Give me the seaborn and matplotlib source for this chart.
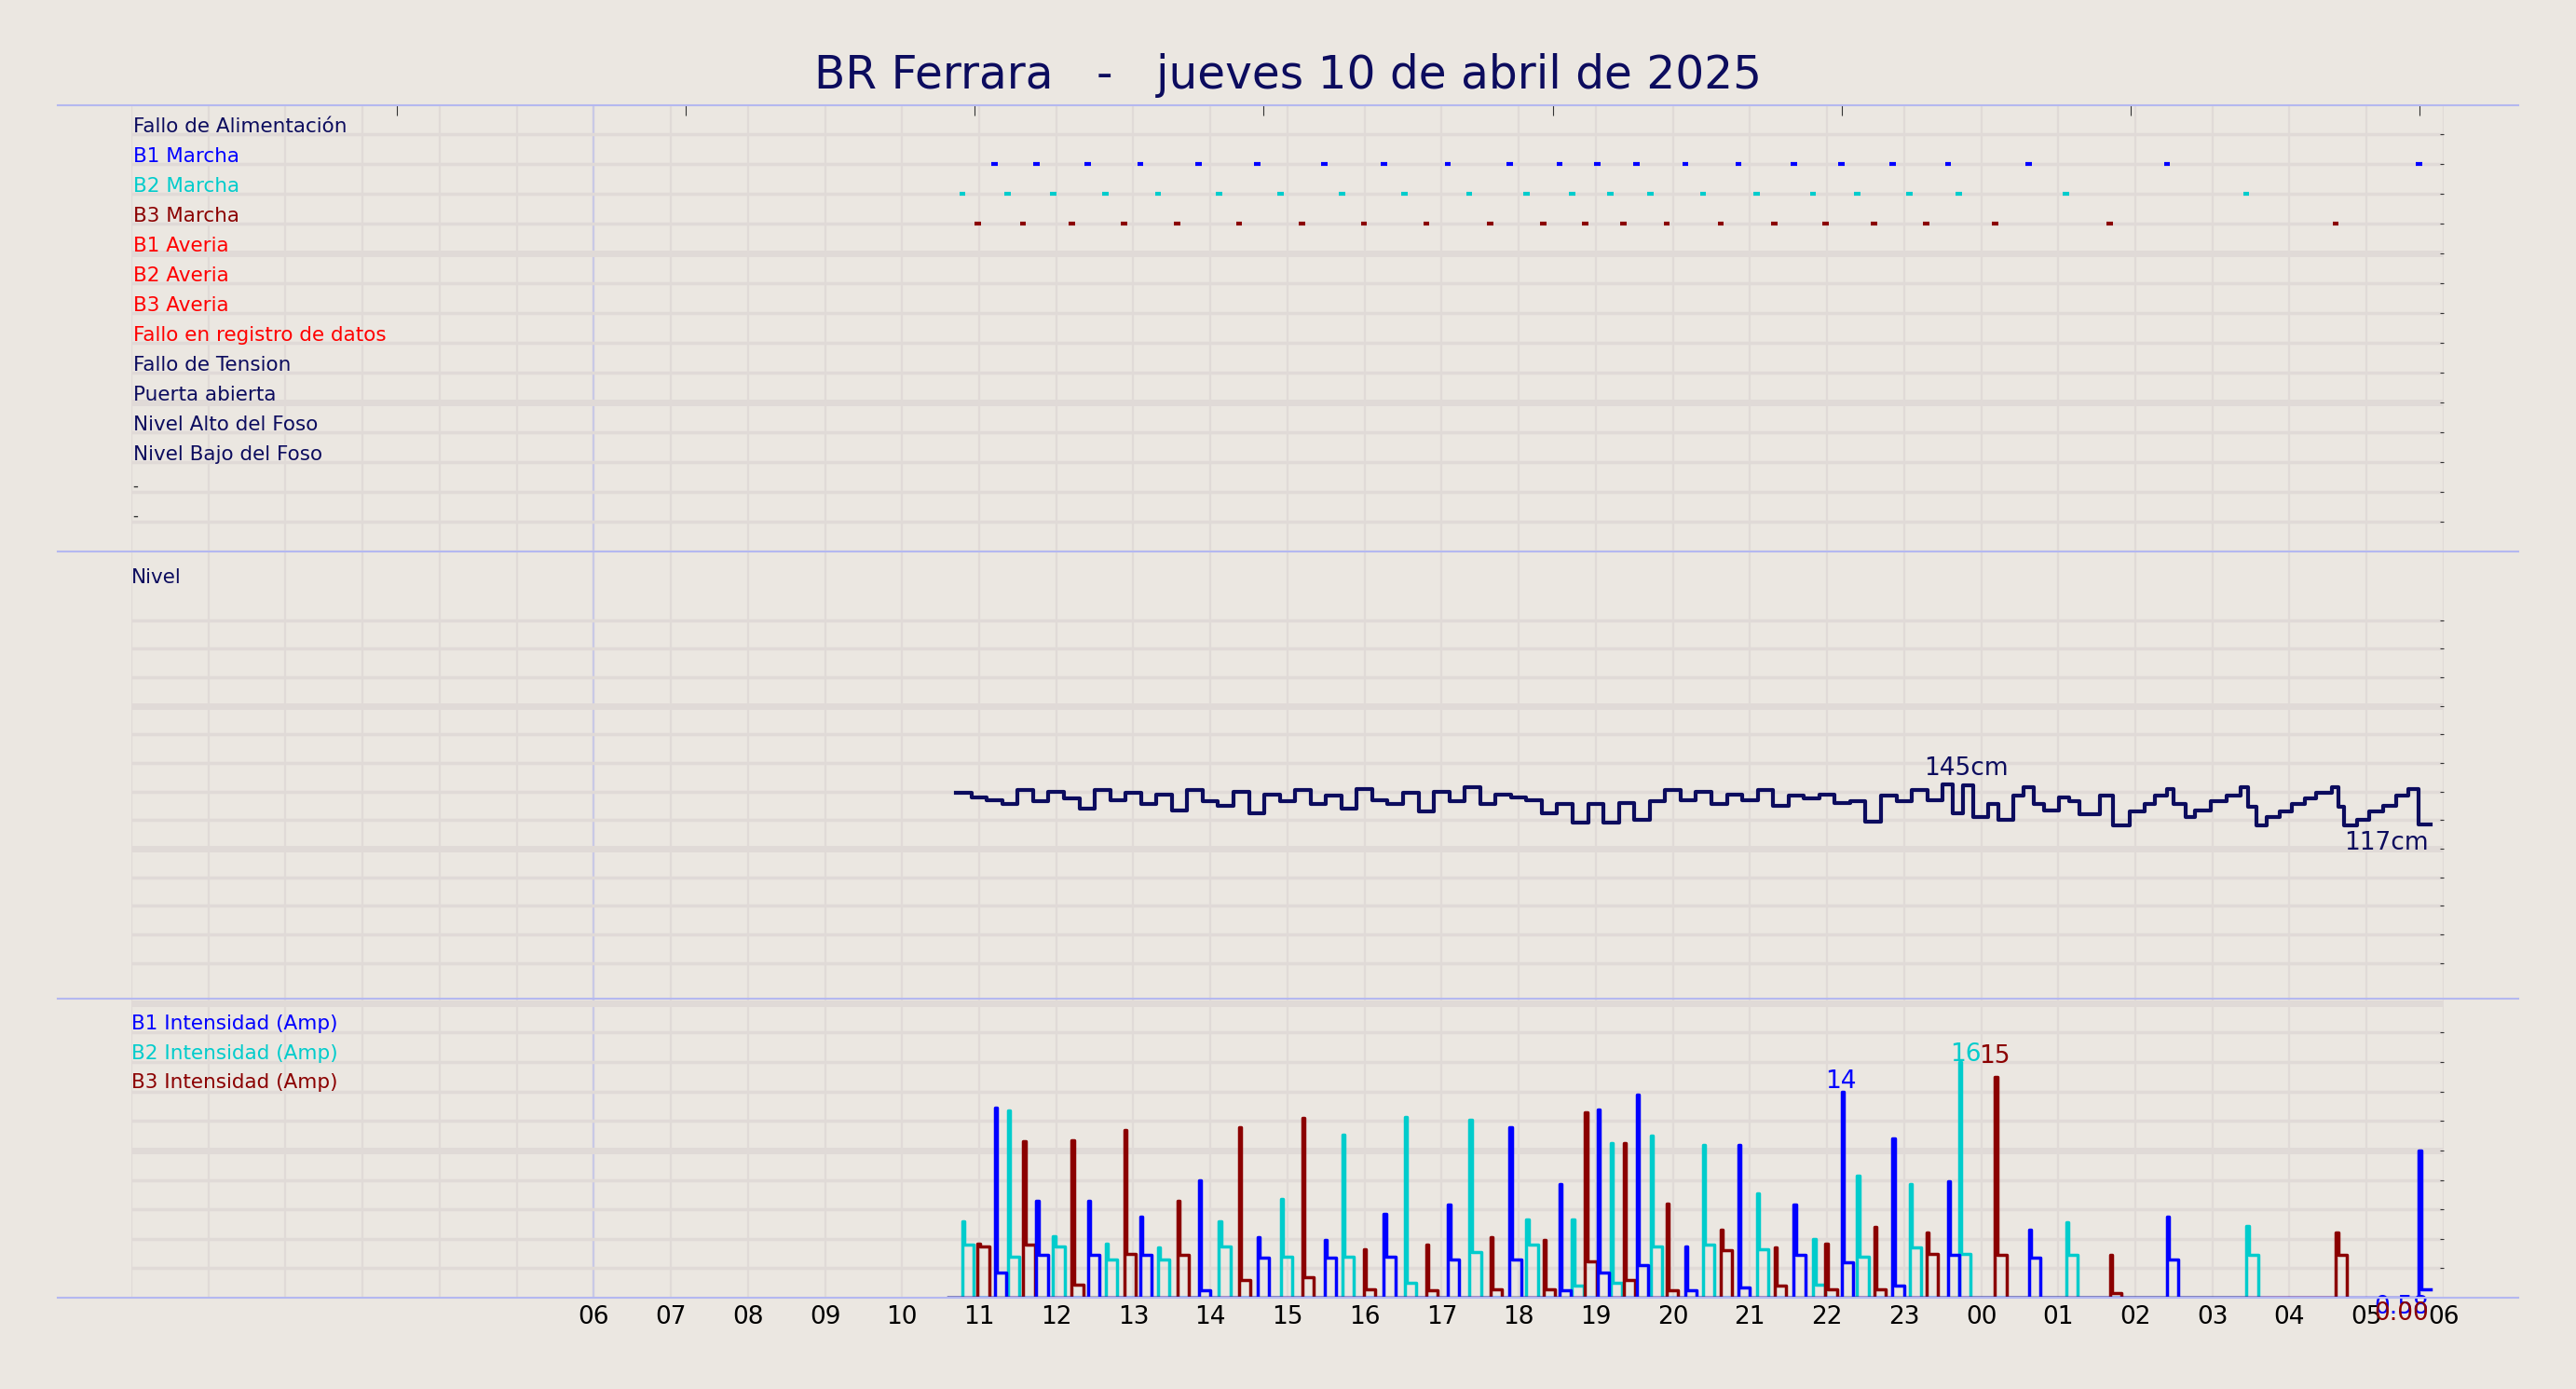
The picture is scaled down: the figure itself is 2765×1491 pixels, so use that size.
import matplotlib
matplotlib.use('Agg')
import matplotlib.pyplot as plt
import seaborn as sns
import numpy as np

BG = '#ebe7e1'
NAVY = '#0c0c5e'
GRID = '#e0dad7'
SEP = '#b4b8f0'

# ---- datos ----
etiquetas_estado = ['Fallo de Alimentación', 'B1 Marcha', 'B2 Marcha', 'B3 Marcha', 'B1 Averia',
                    'B2 Averia', 'B3 Averia', 'Fallo en registro de datos', 'Fallo de Tension',
                    'Puerta abierta', 'Nivel Alto del Foso', 'Nivel Bajo del Foso']
colores_estado = [NAVY, 'blue', '#00cccc', '#8b0000', 'red', 'red', 'red', 'red',
                  NAVY, NAVY, NAVY, NAVY]

# arranques de bombas (horas desde 00:00 del 10/04)
b1_t = [11.20, 11.74, 12.41, 13.09, 13.85, 14.61, 15.48, 16.25, 17.08, 17.88, 18.53, 19.02,
        19.53, 20.16, 20.85, 21.57, 22.19, 22.85, 23.57, 24.62, 26.41, 29.68]
b1_pico = [12.9, 6.6, 6.6, 5.5, 8.0, 4.1, 3.9, 5.7, 6.3, 11.6, 7.7, 12.8,
           13.8, 3.5, 10.4, 6.3, 14.0, 10.8, 7.9, 4.6, 5.5, 10.0]
b1_meseta = [1.7, 2.9, 2.9, 2.9, 0.5, 2.7, 2.7, 2.8, 2.6, 2.6, 0.5, 1.7,
             2.2, 0.5, 0.7, 2.9, 2.4, 0.8, 2.9, 2.7, 2.6, 0.58]

b2_t = [10.78, 11.37, 11.96, 12.64, 13.32, 14.11, 14.91, 15.71, 16.52, 17.36, 18.10, 18.69,
        19.19, 19.71, 20.39, 21.09, 21.82, 22.39, 23.07, 23.71, 25.10, 27.44]
b2_pico = [5.2, 12.7, 4.2, 3.7, 3.4, 5.2, 6.7, 11.1, 12.3, 12.1, 5.3, 5.3,
           10.5, 11.0, 10.4, 7.1, 4.0, 8.3, 7.7, 16.0, 5.1, 4.9]
b2_meseta = [3.6, 2.8, 3.5, 2.6, 2.6, 3.5, 2.8, 2.8, 1.0, 3.1, 3.6, 0.8,
             1.0, 3.5, 3.6, 3.3, 0.9, 2.8, 3.4, 3.0, 2.9, 2.9]

b3_t = [10.98, 11.57, 12.20, 12.88, 13.57, 14.37, 15.19, 15.99, 16.80, 17.63, 18.32, 18.86,
        19.36, 19.92, 20.62, 21.32, 21.98, 22.61, 23.29, 24.18, 25.67, 28.60]
b3_pico = [3.7, 10.6, 10.7, 11.4, 6.6, 11.6, 12.2, 3.3, 3.6, 4.1, 3.9, 12.6,
           10.5, 6.4, 4.6, 3.4, 3.7, 4.8, 4.4, 15.0, 2.9, 4.4]
b3_meseta = [3.5, 3.6, 0.9, 3.0, 2.9, 1.2, 1.4, 0.6, 0.5, 0.6, 0.6, 2.5,
             1.2, 0.5, 3.2, 0.8, 0.6, 0.6, 3.0, 2.9, 0.3, 2.9]

nivel_t = [10.7, 10.9, 11.1, 11.3, 11.5, 11.7, 11.9, 12.1, 12.3, 12.5, 12.7, 12.9, 13.1, 13.3,
           13.5, 13.7, 13.9, 14.1, 14.3, 14.5, 14.7, 14.9, 15.1, 15.3, 15.5, 15.7, 15.9, 16.1,
           16.3, 16.5, 16.7, 16.9, 17.1, 17.3, 17.5, 17.7, 17.9, 18.1, 18.3, 18.5, 18.7, 18.9,
           19.1, 19.3, 19.5, 19.7, 19.9, 20.1, 20.3, 20.5, 20.7, 20.9, 21.1, 21.3, 21.5, 21.7,
           21.9, 22.1, 22.3, 22.5, 22.7, 22.9, 23.1, 23.3, 23.5, 23.63, 23.76, 23.9, 24.09,
           24.22, 24.42, 24.55, 24.68, 24.81, 25.01, 25.14, 25.27, 25.54, 25.71, 25.93, 26.12,
           26.26, 26.41, 26.49, 26.65, 26.78, 26.98, 27.18, 27.37, 27.46, 27.57, 27.70, 27.87,
           28.03, 28.20, 28.35, 28.55, 28.64, 28.71, 28.88, 29.04, 29.21, 29.38, 29.54, 29.68,
           29.83]
nivel_v = [139, 136, 134, 131, 141, 133, 140, 135, 128, 141, 134, 139, 131, 138,
           127, 141, 133, 130, 140, 125, 138, 133, 141, 131, 137, 128, 142, 134,
           131, 139, 126, 140, 133, 143, 131, 138, 136, 134, 125, 131, 118, 131,
           118, 132, 120, 133, 141, 134, 140, 131, 138, 134, 141, 130, 137, 135,
           138, 132, 133, 119, 137, 133, 141, 134, 145, 125, 144, 122, 131,
           120, 137, 143, 131, 127, 136, 133, 124, 137, 116, 126, 131,
           137, 142, 131, 122, 127, 133, 137, 143, 129, 116, 122, 126,
           131, 135, 139, 143, 129, 116, 120, 126, 130, 137, 142, 117,
           117]

ticks_sup = [3.44, 7.19, 10.94, 14.69, 18.44, 22.19, 25.94, 29.69]
horas = list(range(6, 31))
fin = 29.83


def serie_bomba(t, pico, meseta):
    xs, ys = [10.6], [0.0]
    for i in range(len(t)):
        xs += [t[i], t[i] + 0.03, t[i] + 0.15]
        ys += [pico[i], meseta[i], 0.0]
    if meseta[-1] > 0.5 and t[-1] > 29:
        xs[-1] = fin
        ys[-1] = meseta[-1]
    return xs, ys


fig = plt.figure(figsize=(27.65, 14.91), dpi=100, facecolor=BG)
x0, w = 0.051, 0.8976
ax_top = fig.add_axes([x0, 0.603, w, 0.3213])
ax_mid = fig.add_axes([x0, 0.281, w, 0.322])
ax_bot = fig.add_axes([x0, 0.0657, w, 0.2153])

for ax in (ax_top, ax_mid, ax_bot):
    ax.set_facecolor(BG)
    ax.set_xlim(0, 30.0)
    for s in ax.spines.values():
        s.set_visible(False)
    for h in range(0, 31):
        ax.axvline(h, color=GRID, lw=1.6, zorder=0)
    ax.axvline(6, color='#c9c9e6', lw=1.6, zorder=0)
    ax.set_xticks([])
    ax.yaxis.tick_right()
    ax.tick_params(axis='y', direction='in', length=3, color='#333333', labelright=False)

# ---- panel de estados ----
ax_top.set_ylim(14, -0.97)
for k in range(15):
    ax_top.axhline(k, color=GRID, lw=5 if k in (4, 9) else 2.5, zorder=0)
ax_top.set_yticks(range(14))
for i, (lab, col) in enumerate(zip(etiquetas_estado, colores_estado)):
    ax_top.text(0.02, i + 0.08, lab, color=col, fontsize=15.5, va='bottom', ha='left')
for k in (12, 13):
    ax_top.text(0.02, k + 0.08, '-', color='#333333', fontsize=12, va='bottom')
for row, tt, col in ((1, b1_t, 'blue'), (2, b2_t, '#00cccc'), (3, b3_t, '#8b0000')):
    ax_top.hlines([row] * len(tt), np.array(tt) - 0.04, np.array(tt) + 0.04, colors=col, lw=3)
ax_top.set_xticks(ticks_sup)
ax_top.xaxis.tick_top()
ax_top.tick_params(axis='x', direction='in', length=8, color='#333333', labeltop=False)

# ---- panel de nivel ----
ax_mid.set_ylim(-5, 308)
niveles = list(range(20, 280, 20))
for n in niveles:
    ax_mid.axhline(n, color=GRID, lw=5 if n in (100, 200) else 2.5, zorder=0)
ax_mid.set_yticks(niveles)
sns.lineplot(x=nivel_t, y=nivel_v, ax=ax_mid, color=NAVY, lw=3, drawstyle='steps-post',
             estimator=None, sort=False)
ax_mid.text(0.0, 290, 'Nivel', color=NAVY, fontsize=15.5, va='center', ha='left')
ax_mid.text(23.8, 156, '145cm', color=NAVY, fontsize=19, ha='center', va='center')
ax_mid.text(29.26, 104, '117cm', color=NAVY, fontsize=19, ha='center', va='center')
ax_mid.set_xlabel('')
ax_mid.set_ylabel('')

# ---- panel de intensidades ----
ax_bot.set_ylim(0, 20.3)
amps = list(range(2, 20, 2))
for a in amps:
    ax_bot.axhline(a, color=GRID, lw=5 if a == 10 else 2.5, zorder=0)
ax_bot.axhline(20, color=GRID, lw=5, zorder=0)
ax_bot.set_yticks(amps)
for tt, pp, mm, col in ((b2_t, b2_pico, b2_meseta, '#00cccc'),
                        (b3_t, b3_pico, b3_meseta, '#8b0000'),
                        (b1_t, b1_pico, b1_meseta, 'blue')):
    xs, ys = serie_bomba(tt, pp, mm)
    sns.lineplot(x=xs, y=ys, ax=ax_bot, color=col, lw=2.5, drawstyle='steps-post',
                 estimator=None, sort=False)
ax_bot.set_xlabel('')
ax_bot.set_ylabel('')
for i, (lab, col) in enumerate((('B1 Intensidad (Amp)', 'blue'),
                                ('B2 Intensidad (Amp)', '#00cccc'),
                                ('B3 Intensidad (Amp)', '#8b0000'))):
    ax_bot.text(0.0, 18.6 - 2.0 * i, lab, color=col, fontsize=15.5, va='center', ha='left')
ax_bot.text(22.18, 14.7, '14', color='blue', fontsize=19, ha='center', va='center')
ax_bot.text(23.80, 16.5, '16', color='#00cccc', fontsize=19, ha='center', va='center')
ax_bot.text(24.17, 16.4, '15', color='#8b0000', fontsize=19, ha='center', va='center')
ax_bot.text(29.45, -0.6, '0.58', color='blue', fontsize=19, ha='center', va='center', clip_on=False)
ax_bot.text(29.45, -1.1, '0.00', color='#8b0000', fontsize=19, ha='center', va='center', clip_on=False)
ax_bot.set_xticks(horas)
ax_bot.set_xticklabels([f'{h % 24:02d}' for h in horas], fontsize=19)
ax_bot.tick_params(axis='x', length=0, pad=6)

# separadores
for yy in (0.9242, 0.603, 0.281, 0.0657):
    fig.add_artist(plt.Line2D([0.0224, 0.9776], [yy, yy], color=SEP, lw=1.5))

fig.text(0.5, 0.946, 'BR Ferrara   -   jueves 10 de abril de 2025', color=NAVY,
         fontsize=35, ha='center', va='center')

fig.savefig('out.png', dpi=100, facecolor=BG)
